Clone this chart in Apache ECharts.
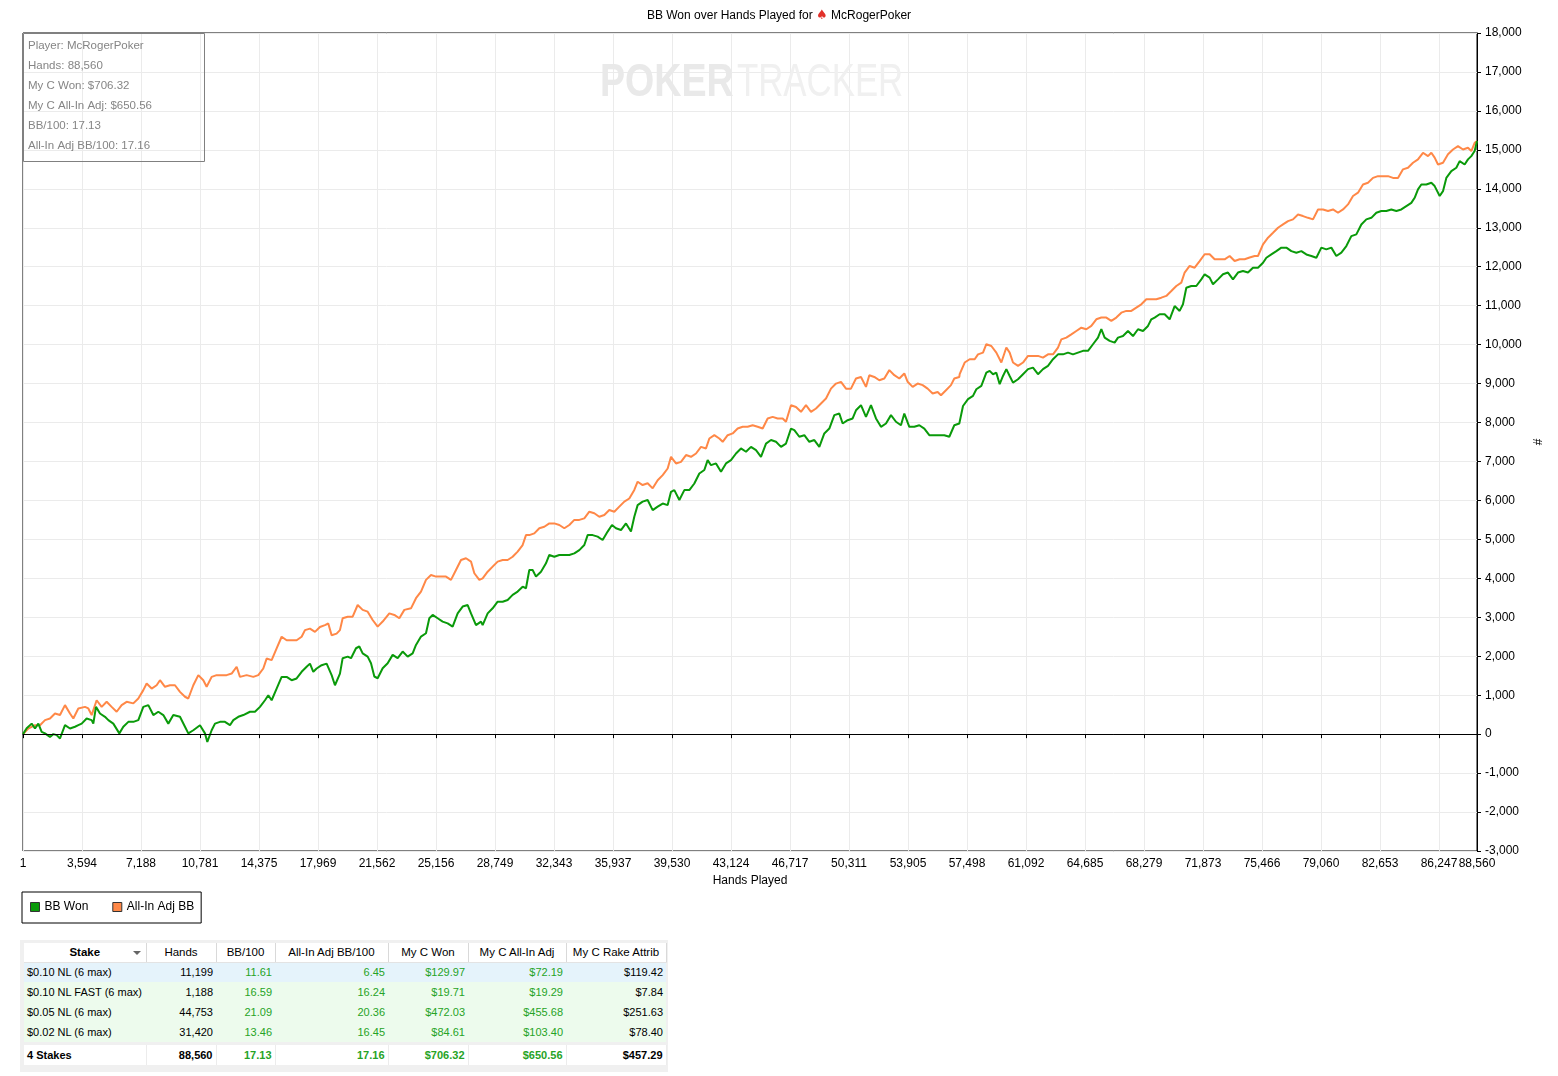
<!DOCTYPE html>
<html>
<head>
<meta charset="utf-8">
<title>BB Won over Hands Played</title>
<script src="https://cdn.jsdelivr.net/npm/echarts@6.0.0/dist/echarts.min.js"></script>
<style>
html, body { margin: 0; padding: 0; background: #fff; }
#main { position: absolute; left: 0; top: 0; width: 1558px; height: 1076px; }
#panel { position: absolute; left: 20px; top: 940px; width: 648px; height: 132px; background: #f0f0f0; }
#stakes { position: absolute; left: 4px; top: 3px; border-collapse: collapse; table-layout: fixed;
  font-family: "Liberation Sans", Arial, sans-serif; font-size: 11px; color: #000; }
#stakes td, #stakes th { height: 20px; padding: 0 3px; white-space: nowrap; overflow: hidden; text-align: right; box-sizing: border-box; }
#stakes th { height: 19px; font-weight: normal; text-align: center; background: #fff; border-right: 1px solid #d9d9d9; border-bottom: 1px solid #e3e3e3; font-size: 11.5px; }
#stakes th.first { font-weight: bold; position: relative; }
#stakes th.first i { position: absolute; right: 5px; top: 8px; width: 0; height: 0; border-left: 4px solid transparent; border-right: 4px solid transparent; border-top: 4px solid #666; }
#stakes td.name { text-align: left; }
#stakes td.g { color: #26a326; }
#stakes tr.sel td { background: #e5f3fb; }
#stakes tr.row td { background: #edfbed; }
#stakes tr.gap td { height: 3px; background: #f0f0f0; padding: 0; }
#stakes tr.tot td { background: #fff; font-weight: bold; border-right: 1px solid #ececec; }
</style>
</head>
<body>
<div id="main"></div>
<div id="panel"><table id="stakes"></table></div>
<script>
// x axis tick labels (hand numbers)
var xTicks = [1, 3594, 7188, 10781, 14375, 17969, 21562, 25156, 28749, 32343, 35937, 39530, 43124,
  46717, 50311, 53905, 57498, 61092, 64685, 68279, 71873, 75466, 79060, 82653, 86247, 88560];

// BB Won (green)
var wonHands = [1, 224, 529, 732, 935, 1138, 1341, 1645, 1848, 2051, 2254, 2559, 2863, 3168, 3371, 3574, 3878, 4183, 4284, 4447,
  4690, 4995, 5198, 5502, 5868, 6111, 6416, 6720, 7025, 7329, 7634, 7938, 8243, 8547, 8852, 9156, 9562, 9867, 10070, 10374,
  10780, 11085, 11227, 11491, 11694, 11998, 12303, 12607, 12811, 13115, 13420, 13825, 14130, 14434, 14739, 14942, 15145, 15449, 15754, 16058,
  16363, 16667, 16972, 17276, 17479, 17682, 17885, 18190, 18494, 18799, 19002, 19306,
  19471, 19776, 19979, 20283, 20486, 20689, 20994, 21197, 21400, 21603, 21907, 22212, 22516, 22821, 23125, 23430, 23734, 23937, 24242, 24546,
  24749, 24952, 25257, 25561, 25866, 26170, 26475, 26779, 27084, 27287, 27591, 27896, 27997, 28302, 28606, 28911, 29215, 29520, 29824, 30129,
  30433, 30636, 30839, 31042, 31245, 31550, 31854, 32057, 32362, 32666, 32971, 33275, 33580, 33884, 34189, 34392, 34696, 35001, 35305, 35610,
  35874, 36117, 36422, 36726, 37031, 37234, 37437, 37741, 38046,
  38353, 38657, 38962, 39266, 39469, 39672, 39977, 40281, 40586, 40890, 41195, 41499, 41702, 41905, 42210, 42514, 42819, 43123, 43428, 43732,
  44037, 44341, 44646, 44950, 45255, 45559, 45864, 46168, 46473, 46777, 46980, 47285, 47589, 47894, 48198, 48503, 48807, 49112, 49416, 49721,
  49924, 50228, 50533, 50736, 51040, 51345, 51649, 51954, 52258, 52563, 52867, 53172, 53476, 53679, 53984, 54288, 54593, 54897, 55202, 55506,
  55811, 56115, 56420, 56724, 57029,
  57254, 57559, 57863, 58066, 58371, 58675, 58878, 59081, 59284, 59487, 59690, 59893, 60096, 60299, 60604, 60908, 61213, 61517, 61822, 62126,
  62431, 62735, 63040, 63344, 63649, 63953, 64258, 64562, 64867, 65171, 65476, 65679, 65882, 66186, 66491, 66694, 66998, 67303, 67607, 67912,
  68216, 68521, 68724, 68927, 69231, 69536, 69840, 70145, 70449, 70652, 70855, 71160, 71464, 71769, 71972, 72276, 72479, 72784, 73088, 73393,
  73697, 74002, 74306, 74611, 74915, 75220,
  75527, 75730, 76034, 76339, 76643, 76948, 77252, 77557, 77861, 78166, 78470, 78775, 79079, 79384, 79688, 79993, 80297, 80602, 80906, 81211,
  81515, 81820, 82124, 82429, 82733, 83038, 83342, 83647, 83951, 84256, 84560, 84763, 84966, 85169, 85474, 85778, 85981, 86286, 86489, 86692,
  86996, 87301, 87504, 87808, 88011, 88214, 88417, 88560];
var wonBB = [0, 150, 270, 145, 270, 60, 20, -70, 0, -25, -110, 230, 145, 190, 230, 270, 400, 360, 270, 700,
  530, 445, 360, 270, 20, 190, 315, 315, 360, 700, 745, 490, 575, 490, 270, 490, 445, 190, 20, 100,
  230, 20, -200, 100, 270, 315, 315, 230, 360, 445, 490, 575, 575, 700, 870, 1000, 870, 1170, 1470, 1470,
  1385, 1430, 1600, 1730, 1810, 1600, 1685, 1770, 1810, 1515, 1255, 1555,
  1950, 1990, 1950, 2205, 2250, 2075, 1990, 1820, 1480, 1435, 1690, 1820, 2035, 1950, 2120, 1990, 2075, 2290, 2505, 2590,
  2975, 3060, 2975, 2890, 2845, 2760, 3100, 3275, 3315, 3100, 2800, 2890, 2800, 3100, 3230, 3400, 3400, 3445, 3575, 3660,
  3785, 3745, 4215, 4215, 4045, 4170, 4385, 4600, 4555, 4600, 4600, 4600, 4640, 4725, 4855, 5110, 5110, 5070, 4985, 5200,
  5370, 5285, 5240, 5410, 5200, 5580, 5880, 5970, 6010,
  5750, 5840, 5920, 5880, 6220, 6265, 6010, 6265, 6265, 6435, 6690, 6780, 7035, 6905, 6950, 6735, 6950, 7035, 7205, 7335,
  7250, 7375, 7290, 7120, 7460, 7550, 7505, 7375, 7460, 7845, 7805, 7635, 7675, 7505, 7550, 7375, 7720, 7845, 8190, 8230,
  7975, 8060, 8105, 8315, 8445, 8145, 8445, 8105, 7890, 7975, 8190, 8020, 7930, 8230, 7890, 7890, 7930, 7845, 7675, 7675,
  7675, 7675, 7635, 7930, 7975,
  8425, 8600, 8685, 8855, 8940, 9280, 9325, 9240, 9280, 8985, 9195, 9370, 9195, 9025, 9110, 9240, 9370, 9410, 9240, 9370,
  9455, 9625, 9750, 9750, 9795, 9750, 9795, 9840, 9840, 10010, 10180, 10395, 10180, 10095, 10050, 10180, 10220, 10350, 10220, 10395,
  10350, 10480, 10650, 10695, 10780, 10780, 10650, 10990, 10865, 11035, 11460, 11505, 11505, 11675, 11805, 11720, 11550, 11675, 11805, 11850,
  11675, 11850, 11890, 11850, 11975, 11975,
  12100, 12230, 12315, 12400, 12490, 12490, 12400, 12360, 12400, 12315, 12275, 12230, 12490, 12445, 12490, 12275, 12360, 12530, 12785, 12830,
  13085, 13215, 13255, 13385, 13430, 13430, 13470, 13430, 13470, 13555, 13640, 13770, 13985, 14110, 14110, 14155, 14070, 13815, 13940, 14280,
  14455, 14540, 14710, 14625, 14755, 14840, 14970, 15225];

// All-In Adj BB (orange)
var adjHands = [1, 326, 732, 1036, 1341, 1645, 1950, 2254, 2559, 2863, 3066, 3371, 3777, 3980, 4183, 4487, 4792, 5096, 5401, 5705,
  6010, 6314, 6720, 7025, 7329, 7532, 7837, 8141, 8344, 8649, 8953, 9258, 9562, 9867, 10070, 10374, 10679, 10983, 11186, 11491,
  11795, 12100, 12404, 12709, 13013, 13216, 13622, 14028, 14333, 14637, 14840, 15145, 15449, 15754, 16058, 16363, 16667, 16972, 17175, 17479,
  17784, 18087, 18392, 18595, 18798, 19102, 19305,
  19471, 19776, 20080, 20385, 20689, 20994, 21298, 21603, 21907, 22313, 22618, 22922, 23227, 23633, 23937, 24242, 24546, 24851, 25155, 25460,
  25764, 26069, 26373, 26678, 26982, 27287, 27490, 27794, 27997, 28302, 28606, 28911, 29215, 29520, 29824, 30129, 30433, 30636, 30839, 31144,
  31448, 31753, 32057, 32362, 32666, 32971, 33275, 33580, 33884, 34189, 34493, 34798, 35102, 35407, 35711, 36016, 36320, 36625, 36929, 37234,
  37437, 37741, 38046,
  38353, 38657, 38962, 39266, 39469, 39774, 40078, 40383, 40687, 40992, 41296, 41601, 41804, 42108, 42413, 42616, 42920, 43225, 43529, 43834,
  44138, 44443, 44747, 45052, 45356, 45661, 45965, 46270, 46473, 46777, 47082, 47386, 47691, 47995, 48300, 48604, 48909, 49213, 49518, 49822,
  50127, 50431, 50736, 51040, 51345, 51548, 51852, 52157, 52461, 52766, 53070, 53375, 53679, 53882, 54187, 54491, 54796, 55100, 55405, 55709,
  55912, 56217, 56521, 56724, 57029,
  57051, 57356, 57660, 57965, 58168, 58472, 58675, 58980, 59284, 59589, 59893, 60096, 60299, 60604, 60908, 61213, 61517, 61822, 62126, 62431,
  62735, 63040, 63243, 63547, 63852, 64156, 64461, 64765, 65070, 65374, 65679, 65983, 66288, 66592, 66897, 67201, 67506, 67810, 68115, 68419,
  68724, 69028, 69333, 69637, 69942, 70246, 70551, 70754, 71058, 71363, 71667, 71972, 72276, 72581, 72885, 73190, 73494, 73799, 74103, 74408,
  74712, 75017, 75220,
  75324, 75527, 75831, 76136, 76440, 76745, 77049, 77354, 77658, 77963, 78267, 78572, 78876, 79181, 79485, 79790, 80094, 80399, 80703, 81008,
  81312, 81617, 81921, 82226, 82530, 82835, 83139, 83444, 83748, 84053, 84357, 84662, 84966, 85271, 85575, 85778, 85981, 86184, 86489, 86793,
  87098, 87402, 87707, 88011, 88214, 88417, 88560];
var adjBB = [0, 145, 230, 230, 360, 400, 530, 490, 745, 530, 400, 660, 700, 660, 490, 870, 700, 830, 700, 575,
  745, 830, 790, 915, 1130, 1300, 1170, 1255, 1385, 1215, 1255, 1255, 1085, 960, 915, 1255, 1515, 1385, 1215, 1470,
  1515, 1515, 1515, 1555, 1730, 1470, 1515, 1470, 1515, 1685, 1940, 1900, 2200, 2500, 2410, 2410, 2410, 2500, 2670, 2710,
  2625, 2750, 2800, 2840, 2540, 2580, 2670,
  2975, 3015, 3015, 3315, 3190, 3145, 2930, 2760, 2890, 3100, 3060, 2975, 3190, 3230, 3490, 3660, 3960, 4085, 4045, 4045,
  4045, 3960, 4215, 4470, 4515, 4430, 4130, 3960, 4000, 4170, 4300, 4430, 4470, 4470, 4555, 4685, 4855, 5110, 5110, 5155,
  5285, 5325, 5410, 5410, 5370, 5285, 5370, 5500, 5500, 5540, 5710, 5670, 5580, 5625, 5755, 5710, 5840, 5970, 6050, 6270,
  6480, 6395, 6440,
  6310, 6520, 6650, 6820, 7120, 6950, 6990, 7165, 7120, 7205, 7375, 7335, 7590, 7675, 7590, 7505, 7675, 7720, 7845, 7890,
  7890, 7930, 7890, 7845, 8105, 8145, 8105, 8105, 8020, 8445, 8400, 8275, 8445, 8275, 8360, 8490, 8615, 8870, 9000, 9045,
  8870, 8870, 9130, 9170, 8915, 9215, 9170, 9085, 9130, 9345, 9215, 9130, 9260, 9045, 8915, 9000, 8960, 8870, 8745, 8785,
  8700, 8830, 8960, 9130, 9170,
  9240, 9540, 9625, 9625, 9750, 9795, 10010, 9965, 9795, 9540, 9925, 9795, 9540, 9455, 9540, 9710, 9710, 9710, 9665, 9750,
  9750, 9925, 10135, 10180, 10265, 10350, 10435, 10395, 10480, 10650, 10695, 10695, 10610, 10695, 10820, 10865, 10865, 10950, 11035, 11165,
  11165, 11165, 11205, 11250, 11375, 11505, 11590, 11850, 12020, 11975, 12145, 12320, 12320, 12190, 12190, 12190, 12275, 12145, 12190, 12190,
  12235, 12275, 12275,
  12315, 12575, 12745, 12870, 13000, 13085, 13170, 13215, 13340, 13300, 13255, 13215, 13470, 13470, 13430, 13470, 13385, 13470, 13600, 13815,
  13900, 14110, 14155, 14280, 14325, 14325, 14325, 14280, 14280, 14500, 14540, 14670, 14755, 14925, 14840, 14925, 14800, 14625, 14670, 14885,
  15010, 15095, 15010, 15055, 14970, 15180, 15225];

var infoLines = ['Player: McRogerPoker', 'Hands: 88,560', 'My C Won: $706.32', 'My C All-In Adj: $650.56',
  'BB/100: 17.13', 'All-In Adj BB/100: 17.16'];

// stakes table
var stakeHeaders = ['Stake', 'Hands', 'BB/100', 'All-In Adj BB/100', 'My C Won', 'My C All-In Adj', 'My C Rake Attrib'];
var stakeNames = ['$0.10 NL (6 max)', '$0.10 NL FAST (6 max)', '$0.05 NL (6 max)', '$0.02 NL (6 max)', '4 Stakes'];
var stakeHands = [11199, 1188, 44753, 31420, 88560];
var stakeBB100 = [11.61, 16.59, 21.09, 13.46, 17.13];
var stakeAdjBB100 = [6.45, 16.24, 20.36, 16.45, 17.16];
var stakeWon = [129.97, 19.71, 472.03, 84.61, 706.32];
var stakeAdjWon = [72.19, 19.29, 455.68, 103.40, 650.56];
var stakeRake = [119.42, 7.84, 251.63, 78.40, 457.29];

function pairs(xs, ys) {
  return xs.map(function (x, i) { return [x, ys[i]]; });
}
function commas(v) {
  return String(v).replace(/\B(?=(\d{3})+(?!\d))/g, ',');
}

var fontName = '"Liberation Sans", Arial, sans-serif';
var graphics = [
  { type: 'text', x: 600, y: 83, z: 1, scaleX: 0.8, silent: true,
    style: { text: 'POKER', font: 'bold 47px ' + fontName, fill: '#e9e9e9', verticalAlign: 'middle' } },
  { type: 'text', x: 737, y: 83, z: 1, scaleX: 0.74, silent: true,
    style: { text: 'TRACKER', font: '47px ' + fontName, fill: '#f0f0f0', verticalAlign: 'middle' } },
  { type: 'rect', z: 10, silent: true, shape: { x: 23.5, y: 33.5, width: 181, height: 128 },
    style: { fill: 'none', stroke: '#808080', lineWidth: 1 } }
];
infoLines.forEach(function (t, i) {
  graphics.push({ type: 'text', x: 28, y: 46 + i * 20, z: 10, silent: true,
    style: { text: t, font: '11.5px ' + fontName, fill: '#858585', verticalAlign: 'middle' } });
});

var myChart = echarts.init(document.getElementById('main'));
var option = {
  animation: false,
  backgroundColor: '#fff',
  title: {
    text: 'BB Won over Hands Played for {s|♠} McRogerPoker',
    left: 'center',
    top: 9,
    padding: 0,
    textStyle: {
      fontFamily: fontName, fontSize: 12, fontWeight: 'normal', color: '#000',
      rich: { s: { color: '#e2302a', fontFamily: 'DejaVu Sans', fontSize: 13 } }
    }
  },
  legend: {
    data: ['BB Won', 'All-In Adj BB'],
    left: 22,
    top: 892,
    orient: 'horizontal',
    padding: [9, 7, 10, 8],
    itemGap: 24,
    itemWidth: 9,
    itemHeight: 9,
    icon: 'rect',
    borderColor: '#000',
    borderWidth: 1,
    itemStyle: { borderColor: '#333', borderWidth: 1 },
    textStyle: { fontFamily: fontName, fontSize: 12, color: '#000', padding: [1, 0, 0, 0] }
  },
  graphic: graphics,
  grid: {
    left: 23, right: 81, top: 33, bottom: 225,
    show: true, borderColor: '#000', borderWidth: 1
  },
  xAxis: {
    type: 'value',
    min: 1,
    max: 88560,
    name: 'Hands Played',
    nameLocation: 'middle',
    nameGap: 24,
    nameTextStyle: { fontFamily: fontName, fontSize: 12, color: '#000' },
    axisLine: { show: true, lineStyle: { color: '#000', width: 1 } },
    axisTick: { show: true, length: 4, customValues: xTicks, lineStyle: { color: '#000' } },
    axisLabel: {
      customValues: xTicks, margin: 7, color: '#000', fontFamily: fontName, fontSize: 12,
      formatter: function (v) { return commas(Math.round(v)); }
    },
    splitLine: { show: true, lineStyle: { color: '#ebebeb', width: 1 } }
  },
  yAxis: {
    type: 'value',
    position: 'right',
    min: -3000,
    max: 18000,
    interval: 1000,
    name: '#',
    nameLocation: 'middle',
    nameGap: 50,
    nameTextStyle: { fontFamily: fontName, fontSize: 12, color: '#000' },
    axisLine: { show: true, lineStyle: { color: '#000', width: 1 } },
    axisTick: { show: true, length: 4, lineStyle: { color: '#000' } },
    axisLabel: {
      margin: 8, color: '#000', fontFamily: fontName, fontSize: 12, padding: [2, 0, 0, 0],
      formatter: function (v) { return v < 0 ? '-' + commas(-v) : commas(v); }
    },
    splitLine: { show: true, lineStyle: { color: '#ebebeb', width: 1 } }
  },
  series: [
    {
      name: 'BB Won',
      type: 'line',
      data: pairs(wonHands, wonBB),
      showSymbol: false,
      symbol: 'none',
      z: 4,
      color: '#0a9a0a',
      lineStyle: { color: '#0a9a0a', width: 2 },
      markLine: {
        silent: true,
        symbol: 'none',
        label: { show: false },
        lineStyle: { color: '#000', width: 1, type: 'solid' },
        emphasis: { disabled: true },
        data: [{ yAxis: 0 }]
      }
    },
    {
      name: 'All-In Adj BB',
      type: 'line',
      data: pairs(adjHands, adjBB),
      showSymbol: false,
      symbol: 'none',
      z: 3,
      color: '#ff8847',
      lineStyle: { color: '#ff8847', width: 2 }
    }
  ]
};
myChart.setOption(option);

// stakes table under the chart
var tbl = document.getElementById('stakes');
var widths = [122, 70, 59, 113, 80, 98, 100];
var html = '<colgroup>' + widths.map(function (w) { return '<col style="width:' + w + 'px">'; }).join('') + '</colgroup>';
html += '<tr>' + stakeHeaders.map(function (h, i) {
  return i === 0 ? '<th class="first">' + h + '<i></i></th>' : '<th>' + h + '</th>';
}).join('') + '</tr>';
stakeNames.forEach(function (name, i) {
  var last = i === stakeNames.length - 1;
  if (last) html += '<tr class="gap"><td colspan="7"></td></tr>';
  var cls = last ? 'tot' : (i === 0 ? 'sel' : 'row');
  html += '<tr class="' + cls + '">' +
    '<td class="name">' + name + '</td>' +
    '<td>' + commas(stakeHands[i]) + '</td>' +
    '<td class="g">' + stakeBB100[i].toFixed(2) + '</td>' +
    '<td class="g">' + stakeAdjBB100[i].toFixed(2) + '</td>' +
    '<td class="g">$' + stakeWon[i].toFixed(2) + '</td>' +
    '<td class="g">$' + stakeAdjWon[i].toFixed(2) + '</td>' +
    '<td>$' + stakeRake[i].toFixed(2) + '</td></tr>';
});
tbl.innerHTML = html;
</script>
</body>
</html>
